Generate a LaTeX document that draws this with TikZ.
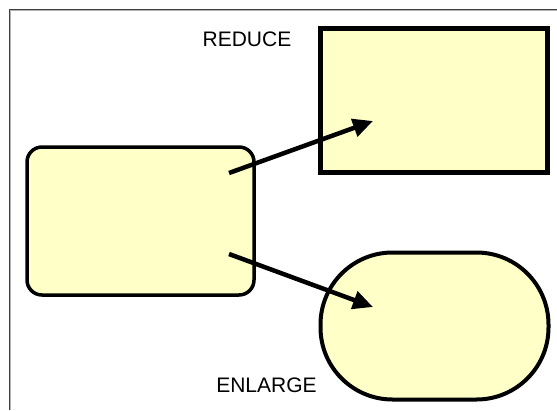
\documentclass[tikz,border=0pt]{standalone}
\usepackage{fontspec}
\setmainfont{Liberation Sans}
\usetikzlibrary{arrows.meta}

\definecolor{cream}{RGB}{255,255,200}

\tikzset{
  shapebox/.style={draw=black, fill=cream, inner sep=0pt},
  bigarrow/.style={line width=4.5pt, -{Triangle[length=20pt,width=18pt]}},
  caption/.style={font=\fontsize{21}{21}\selectfont, inner sep=0pt}
}

\begin{document}
\begin{tikzpicture}[x=1pt,y=-1pt]

% frame
\useasboundingbox (0,0) rectangle (557,410);
\draw[black!75, line width=1pt] (9,410) -- (9,9) -- (557,9);
\draw[gray!60, line width=1pt] (10.2,410) -- (10.2,10.2) -- (557,10.2);

% shapes
\node[shapebox, line width=3.5pt, rounded corners=15pt, minimum width=227pt, minimum height=148pt] (orig) at (140.5,221) {};
\node[shapebox, line width=5pt, minimum width=227pt, minimum height=144pt] (small) at (433.5,100) {};
\node[shapebox, line width=4pt, rounded corners=72pt, minimum width=228pt, minimum height=147pt] (big) at (434.5,326) {};

% labels
\node[caption] (reduce) at (247,39.5) {REDUCE};
\node[caption] (enlarge) at (266.5,385) {ENLARGE};

% arrows
\coordinate (s1) at (229,173);
\coordinate (t1) at (373,121);
\coordinate (s2) at (229,254);
\coordinate (t2) at (373,307);
\draw[bigarrow] (s1) -- (t1);
\draw[bigarrow] (s2) -- (t2);

\end{tikzpicture}
\end{document}
